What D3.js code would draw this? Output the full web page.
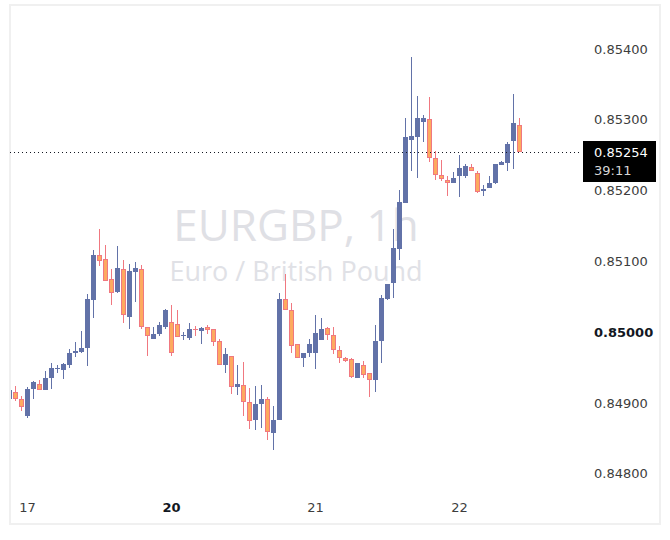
<!DOCTYPE html>
<html>
<head>
<meta charset="utf-8">
<script src="https://cdn.jsdelivr.net/npm/d3@7/dist/d3.min.js"></script>
<style>
  html, body { margin: 0; padding: 0; background: #ffffff; }
  svg { display: block; }
</style>
</head>
<body>
<svg id="chart" width="670" height="540"></svg>
<script>
// ---- DATA (EURGBP, 1h candles) ----
const open = [0.84906,0.84915,0.84905,0.84881,0.84920,0.84927,0.84918,0.84935,0.84948,0.84947,
  0.84954,0.84971,0.84972,0.84978,0.85046,0.85109,0.85103,0.85075,0.85057,0.85089,
  0.85021,0.85085,0.85089,0.85007,0.84991,0.84998,0.85008,0.85014,0.85011,0.84995,
  0.84992,0.85005,0.85002,0.85007,0.85004,0.84987,0.84953,0.84966,0.84922,0.84925,
  0.84902,0.84876,0.84898,0.84905,0.84857,0.84876,0.85047,0.85031,0.84983,0.84963,
  0.84970,0.84971,0.84989,0.85006,0.84996,0.84975,0.84964,0.84962,0.84936,0.84953,
  0.84942,0.84932,0.84987,0.85047,0.85070,0.85118,0.85183,0.85272,0.85276,0.85297,
  0.85301,0.85246,0.85222,0.85215,0.85211,0.85220,0.85221,0.85234,0.85225,0.85200,
  0.85203,0.85211,0.85236,0.85239,0.85270,0.85293];
const high = [0.84920,0.84924,0.84910,0.84923,0.84931,0.84933,0.84945,0.84957,0.84954,0.84957,
  0.84976,0.84986,0.85002,0.85054,0.85116,0.85146,0.85123,0.85089,0.85122,0.85102,
  0.85096,0.85099,0.85095,0.85007,0.85007,0.85014,0.85033,0.85038,0.85031,0.85000,
  0.85013,0.85009,0.85008,0.85010,0.85005,0.84990,0.84978,0.84967,0.84954,0.84958,
  0.84921,0.84924,0.84925,0.84909,0.84896,0.85055,0.85082,0.85041,0.84983,0.84971,
  0.84990,0.85024,0.85020,0.85007,0.85007,0.84981,0.84965,0.84963,0.84956,0.84959,
  0.84942,0.85010,0.85053,0.85068,0.85146,0.85201,0.85303,0.85388,0.85334,0.85307,
  0.85332,0.85256,0.85243,0.85221,0.85226,0.85250,0.85238,0.85238,0.85228,0.85208,
  0.85221,0.85238,0.85242,0.85269,0.85336,0.85302];
const low = [0.84904,0.84903,0.84888,0.84879,0.84906,0.84919,0.84918,0.84920,0.84943,0.84934,
  0.84949,0.84965,0.84971,0.84952,0.85020,0.85093,0.85073,0.85038,0.85056,0.85013,
  0.85005,0.85042,0.85005,0.84967,0.84990,0.84995,0.85005,0.84967,0.84993,0.84989,
  0.84989,0.84995,0.84984,0.84998,0.84981,0.84953,0.84943,0.84913,0.84911,0.84882,
  0.84863,0.84862,0.84864,0.84848,0.84834,0.84876,0.85031,0.84971,0.84963,0.84951,
  0.84965,0.84948,0.84989,0.84989,0.84969,0.84957,0.84958,0.84936,0.84936,0.84936,
  0.84908,0.84915,0.84957,0.85045,0.85048,0.85102,0.85183,0.85228,0.85218,0.85268,
  0.85241,0.85215,0.85214,0.85193,0.85211,0.85191,0.85218,0.85227,0.85196,0.85193,
  0.85203,0.85210,0.85236,0.85228,0.85231,0.85254];
const close = [0.84918,0.84905,0.84895,0.84920,0.84930,0.84919,0.84935,0.84949,0.84950,0.84955,
  0.84971,0.84974,0.84978,0.85047,0.85109,0.85101,0.85073,0.85056,0.85090,0.85024,
  0.85086,0.85091,0.85008,0.84994,0.84997,0.85010,0.85031,0.84970,0.84993,0.84996,
  0.85005,0.85003,0.85006,0.85003,0.84986,0.84954,0.84969,0.84922,0.84927,0.84902,
  0.84874,0.84899,0.84906,0.84859,0.84876,0.85047,0.85031,0.84980,0.84963,0.84971,
  0.84983,0.84999,0.85005,0.84996,0.84975,0.84963,0.84960,0.84937,0.84956,0.84939,
  0.84932,0.84988,0.85049,0.85068,0.85119,0.85184,0.85276,0.85277,0.85303,0.85302,
  0.85246,0.85222,0.85217,0.85211,0.85218,0.85232,0.85235,0.85227,0.85198,0.85202,
  0.85211,0.85238,0.85240,0.85266,0.85295,0.85254];

const dayLabels = ["17", "20", "21", "22"];
const dayStartIndex = [3, 27, 51, 75];
const dayBold = [false, true, false, false];
const priceTicks = [0.848, 0.849, 0.850, 0.851, 0.852, 0.853, 0.854];
const boldPrice = 0.850;
const lastPrice = 0.85254;
const countdown = "39:11";
const title = "EURGBP, 1h";
const subtitle = "Euro / British Pound";

// ---- LAYOUT ----
const svg = d3.select("#chart");
const plotLeft = 10, plotRight = 582;
const x = d3.scaleLinear().domain([0, 85]).range([9, 519]);
const y = d3.scaleLinear().domain([0.848, 0.854]).range([473.8, 49]);

const UP = "#6272a8", DOWN_FILL = "#fdaa5f", DOWN_LINE = "#f07880";
const FONT = "'DejaVu Sans', sans-serif";

// border
svg.append("rect").attr("x", 10).attr("y", 5).attr("width", 650).attr("height", 519)
  .attr("fill", "none").attr("stroke", "#f0f0f0").attr("stroke-width", 2);

// watermark
svg.append("text").attr("x", 296).attr("y", 241).attr("text-anchor", "middle")
  .attr("font-family", "'Open Sans', sans-serif").attr("font-size", 44)
  .attr("fill", "#dfe0e5").text(title);
svg.append("text").attr("x", 296).attr("y", 281).attr("text-anchor", "middle")
  .attr("font-family", "'Open Sans', sans-serif").attr("font-size", 27)
  .attr("fill", "#e0e1e6").text(subtitle);

// clip
svg.append("clipPath").attr("id", "plotclip").append("rect")
  .attr("x", plotLeft + 1).attr("y", 6).attr("width", plotRight - plotLeft - 1).attr("height", 490);

const idx = d3.range(open.length);
const g = svg.append("g").attr("clip-path", "url(#plotclip)");

const candles = g.selectAll("g.c").data(idx).join("g").attr("class", "c");
candles.append("line")
  .attr("x1", i => Math.round(x(i)) + 0.5).attr("x2", i => Math.round(x(i)) + 0.5)
  .attr("y1", i => Math.round(y(high[i]))).attr("y2", i => Math.round(y(low[i])))
  .attr("stroke", i => close[i] >= open[i] ? UP : DOWN_LINE).attr("stroke-width", 1);
candles.append("rect")
  .attr("x", i => Math.round(x(i)) - 2).attr("width", 5)
  .attr("y", i => Math.round(y(Math.max(open[i], close[i]))))
  .attr("height", i => Math.max(1, Math.round(y(Math.min(open[i], close[i]))) - Math.round(y(Math.max(open[i], close[i])))))
  .attr("fill", i => close[i] >= open[i] ? UP : DOWN_LINE);
candles.filter(i => close[i] < open[i]).append("rect")
  .attr("x", i => Math.round(x(i)) - 1).attr("width", 3)
  .attr("y", i => Math.round(y(open[i])) + 1)
  .attr("height", i => Math.max(0, Math.round(y(close[i])) - Math.round(y(open[i])) - 2))
  .attr("fill", DOWN_FILL);

// last price dotted line
svg.append("line").attr("x1", plotLeft).attr("x2", plotRight)
  .attr("y1", Math.round(y(lastPrice)) + 0.5).attr("y2", Math.round(y(lastPrice)) + 0.5)
  .attr("stroke", "#131722").attr("stroke-width", 1).attr("stroke-dasharray", "1,3");

// price axis
const yAxis = d3.axisRight(y).tickValues(priceTicks).tickSize(0).tickPadding(0)
  .tickFormat(d3.format(".5f"));
const ya = svg.append("g").attr("transform", "translate(594,0)").call(yAxis);
ya.select(".domain").remove();
ya.selectAll("text").attr("font-family", FONT).attr("font-size", 13)
  .attr("fill", d => Math.abs(d - boldPrice) < 1e-9 ? "#131722" : "#3d3d3d")
  .attr("font-weight", d => Math.abs(d - boldPrice) < 1e-9 ? "bold" : "normal");

// current price label
const ly = Math.round(y(lastPrice));
svg.append("rect").attr("x", 583).attr("y", ly - 11).attr("width", 73).attr("height", 41).attr("fill", "#000000");
svg.append("text").attr("x", 594).attr("y", ly + 5).attr("font-family", FONT).attr("font-size", 13)
  .attr("fill", "#ffffff").text(d3.format(".5f")(lastPrice));
svg.append("text").attr("x", 594).attr("y", ly + 23).attr("font-family", FONT).attr("font-size", 13)
  .attr("fill", "#d6d6d6").text(countdown);

// time axis
const xAxis = d3.axisBottom(x).tickValues(dayStartIndex).tickSize(0).tickPadding(0)
  .tickFormat((d, i) => dayLabels[i]);
const xa = svg.append("g").attr("transform", "translate(0,503)").call(xAxis);
xa.select(".domain").remove();
xa.selectAll("text").attr("font-family", FONT).attr("font-size", 13)
  .attr("fill", (d, i) => dayBold[i] ? "#131722" : "#3d3d3d")
  .attr("font-weight", (d, i) => dayBold[i] ? "bold" : "normal");
</script>
</body>
</html>
